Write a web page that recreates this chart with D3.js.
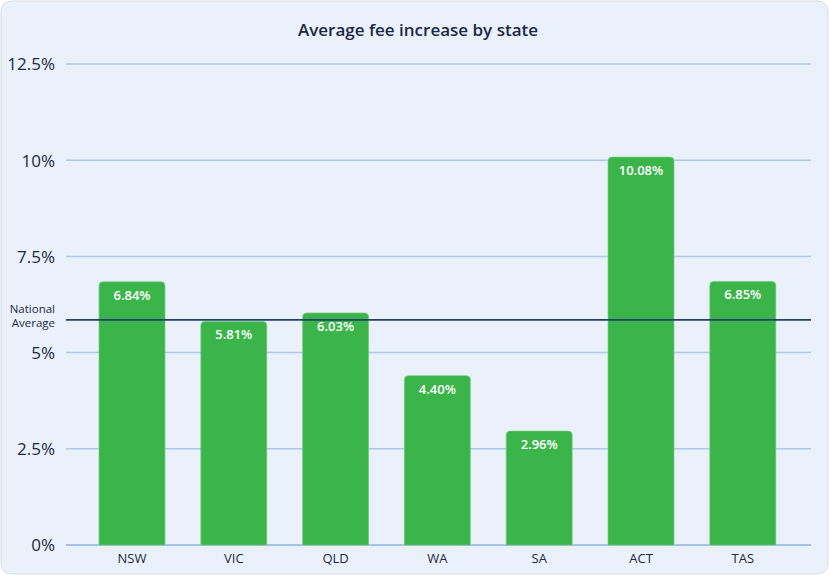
<!DOCTYPE html>
<html><head><meta charset="utf-8">
<script src="https://cdn.jsdelivr.net/npm/d3@7"></script>
<style>html,body{margin:0;padding:0;background:#fff;}svg{display:block;}</style>
</head><body>
<svg id="chart" width="829" height="575"></svg>
<script>
const categories = ["NSW","VIC","QLD","WA","SA","ACT","TAS"];
const values = [6.84, 5.81, 6.03, 4.40, 2.96, 10.08, 6.85];
const tickValues = [0, 2.5, 5, 7.5, 10, 12.5];
const tickLabels = ["0%","2.5%","5%","7.5%","10%","12.5%"];
const nationalAverage = 5.85;
const title = "Average fee increase by state";
const avgLabel = ["National", "Average"];

const svg = d3.select("#chart");
const FONT = "'Open Sans', 'Noto Sans', sans-serif";
const navy = "#1c2847";

svg.append("rect").attr("x",1).attr("y",1).attr("width",827).attr("height",573)
  .attr("rx",10).attr("fill","#ebf1fa").attr("stroke","#d8dde4").attr("stroke-width",1);

const x = d3.scaleBand().domain(categories).range([81.1, 793.7]).paddingInner(0.352).paddingOuter(0.176);
const y = d3.scaleLinear().domain([0, 12.5]).range([545, 64]);
const gridX0 = 66, gridX1 = 811;

// gridlines
svg.append("g").selectAll("line").data(tickValues).join("line")
  .attr("x1", gridX0).attr("x2", gridX1)
  .attr("y1", d => y(d)).attr("y2", d => y(d))
  .attr("stroke", d => d === 0 ? "#8db4e0" : "#a9c9ec").attr("stroke-width", 1.5);

// y axis labels
const yAxis = d3.axisLeft(y).tickValues(tickValues).tickFormat((d,i)=>tickLabels[i]).tickSize(0).tickPadding(0);
const ya = svg.append("g").attr("transform","translate(55,0)").call(yAxis);
ya.select(".domain").remove();
ya.selectAll("text").attr("font-family",FONT).attr("font-size",17).attr("fill",navy).attr("dy","0.35em");

// bars with rounded top corners
const r = 4;
function barPath(d){
  const x0 = x(d.cat), w = x.bandwidth(), y0 = y(d.val), y1 = y(0);
  return `M${x0},${y1}V${y0+r}Q${x0},${y0} ${x0+r},${y0}H${x0+w-r}Q${x0+w},${y0} ${x0+w},${y0+r}V${y1}Z`;
}
const data = categories.map((c,i)=>({cat:c, val:values[i]}));
svg.append("g").selectAll("path").data(data).join("path")
  .attr("d", barPath).attr("fill","#3bb54a").attr("stroke","#6fcb7a").attr("stroke-width",0.6);

// national average line
svg.append("line").attr("x1",gridX0).attr("x2",gridX1)
  .attr("y1",y(nationalAverage)).attr("y2",y(nationalAverage))
  .attr("stroke","#23416b").attr("stroke-width",1.6);
svg.append("text").attr("x",55).attr("y",y(nationalAverage)-7).attr("text-anchor","end")
  .attr("font-family",FONT).attr("font-size",11.5).attr("fill",navy)
  .selectAll("tspan").data(avgLabel).join("tspan")
  .attr("x",55).attr("dy",(d,i)=> i===0 ? 0 : 14).text(d=>d);

// bar value labels
svg.append("g").selectAll("text").data(data).join("text")
  .attr("x", d => x(d.cat) + x.bandwidth()/2).attr("y", d => y(d.val) + 18)
  .attr("text-anchor","middle").attr("font-family",FONT).attr("font-size",13).attr("font-weight",600)
  .attr("fill","#ffffff").text(d => d.val.toFixed(2) + "%");

// x axis labels
const xAxis = d3.axisBottom(x).tickSize(0).tickPadding(0);
const xa = svg.append("g").attr("transform","translate(0,554)").call(xAxis);
xa.select(".domain").remove();
xa.selectAll("text").attr("font-family",FONT).attr("font-size",13).attr("fill",navy).attr("dy","0.71em");

// title
svg.append("text").attr("x",418).attr("y",36).attr("text-anchor","middle")
  .attr("font-family",FONT).attr("font-size",17).attr("font-weight",600).attr("fill",navy).text(title);
</script>
</body></html>
